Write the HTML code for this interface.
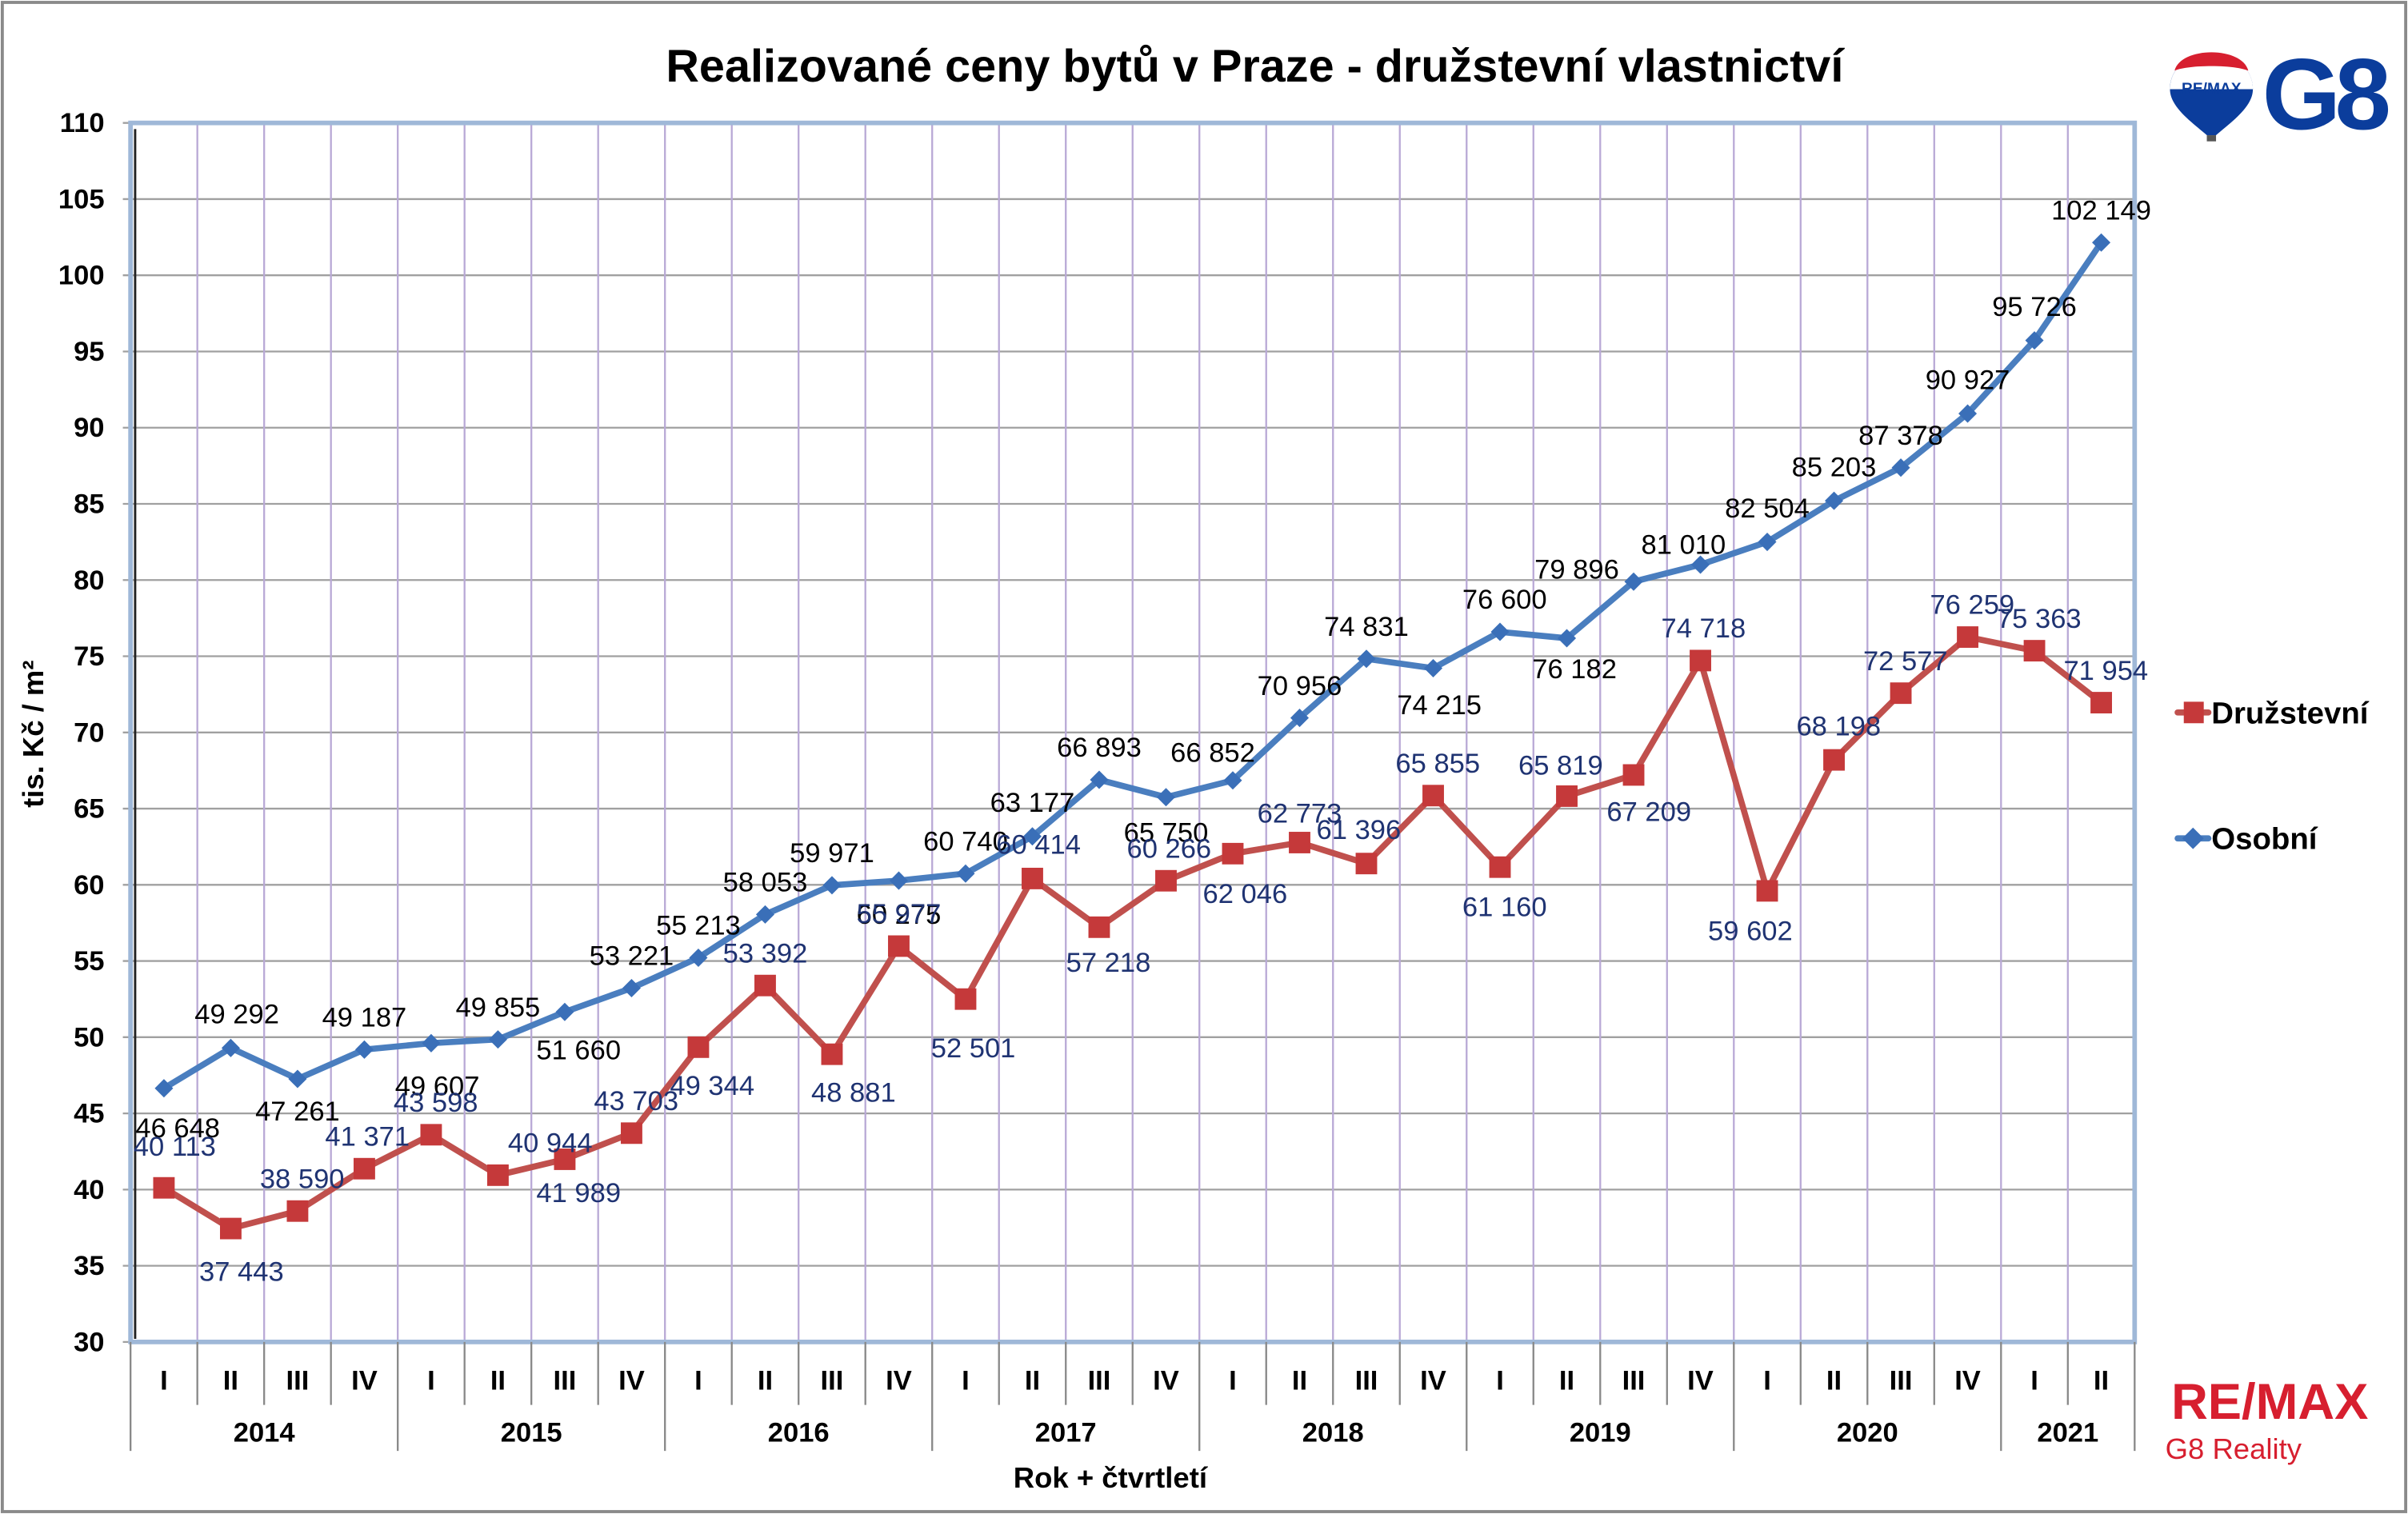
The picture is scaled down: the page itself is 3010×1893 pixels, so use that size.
<!DOCTYPE html>
<html><head><meta charset="utf-8"><style>
html,body{margin:0;padding:0;background:#fff}
svg{display:block}
text{font-family:"Liberation Sans",Arial,sans-serif}
</style></head><body>
<svg id="chart" width="3010" height="1893" viewBox="0 0 1568 986" xmlns="http://www.w3.org/2000/svg">
<rect x="1.5" y="1.5" width="1565" height="983" fill="#fff" stroke="#8a8a8a" stroke-width="2"/>
<text x="817" y="53" text-anchor="middle" font-size="30" font-weight="bold">Realizované ceny bytů v Praze - družstevní vlastnictví</text>
<g id="grid"></g>
<rect x="85" y="80" width="1305" height="794" fill="none" stroke="#9fb8d8" stroke-width="3"/>
<line x1="88" y1="84" x2="88" y2="872" stroke="#222" stroke-width="1.5"/>
<g id="axes"></g>
<g id="series"></g>
<text transform="translate(28,478) rotate(-90)" text-anchor="middle" font-size="19" font-weight="bold">tis. Kč / m²</text>
<text x="723" y="969" text-anchor="middle" font-size="19" font-weight="bold">Rok + čtvrtletí</text>
<g>
<g>
<line x1="1418" y1="464" x2="1438" y2="464" stroke="#c0504d" stroke-width="4" stroke-linecap="round"/>
<rect x="1422" y="457" width="13" height="14" fill="#c5393a"/>
<text x="1440" y="471" font-size="20" font-weight="bold">Družstevní</text></g>
<g>
<line x1="1418" y1="546" x2="1438" y2="546" stroke="#4a7ebf" stroke-width="4" stroke-linecap="round"/>
<polygon points="1428,539 1435,546 1428,553 1421,546" fill="#3a6fb8"/>
<text x="1440" y="553" font-size="20" font-weight="bold">Osobní</text></g>
</g>
<g>
<path d="M1413,58 C1413,28 1467,28 1467,58 C1467,70 1452,80 1443,88 L1437,88 C1428,80 1413,70 1413,58 Z" fill="#0b3d9c"/>
<path d="M1413,58 C1413,28 1467,28 1467,58 L1413,58 Z" fill="#fff"/>
<path d="M1416,46 C1420,30 1460,30 1464,46 C1455,42 1425,42 1416,46 Z" fill="#d71f2f"/>
<text x="1440" y="61" text-anchor="middle" font-size="10" font-weight="bold" fill="#0b3d9c">RE/MAX</text>
<rect x="1437" y="88" width="6" height="4" fill="#555"/>
<text x="1513" y="84" text-anchor="middle" font-size="66" font-weight="bold" fill="#0b3d9c" letter-spacing="-4">G8</text>
</g>
<g>
<text x="1478" y="924" text-anchor="middle" font-size="33" font-weight="bold" fill="#d71f2f">RE/MAX</text>
<text x="1410" y="950" font-size="19" fill="#d71f2f">G8 Reality</text>
</g>
</svg>
<script>
const categories=["I","II","III","IV","I","II","III","IV","I","II","III","IV","I","II","III","IV","I","II","III","IV","I","II","III","IV","I","II","III","IV","I","II"];
const years=["2014","2015","2016","2017","2018","2019","2020","2021"];
const yTicks=[30,35,40,45,50,55,60,65,70,75,80,85,90,95,100,105,110];
const osobni=[46648,49292,47261,49187,49607,49855,51660,53221,55213,58053,59971,60275,60740,63177,66893,65750,66852,70956,74831,74215,76600,76182,79896,81010,82504,85203,87378,90927,95726,102149];
const druzstevni=[40113,37443,38590,41371,43598,40944,41989,43703,49344,53392,48881,55977,52501,60414,57218,60266,62046,62773,61396,65855,61160,65819,67209,74718,59602,68198,72577,76259,75363,71954];
const osDx=[9,4,0,0,4,0,9,0,0,0,0,0,0,0,0,0,-13,0,0,4,3,5,-37,-11,0,0,0,0,0,0];
const osDy=[26,-22,21,-21,28,-21,25,-21,-21,-21,-21,22,-21,-22,-21,23,-18,-21,-21,24,-21,20,-8,-13,-22,-22,-21,-22,-22,-21];
const drDx=[7,7,3,2,3,34,9,3,9,0,14,0,5,4,6,2,8,0,-5,3,3,-4,10,2,-11,3,3,3,3,3];
const drDy=[-27,28,-21,-21,-21,-21,22,-21,25,-21,25,-21,32,-22,23,-21,26,-19,-22,-21,26,-20,24,-21,26,-22,-21,-21,-21,-21];
const NS="http://www.w3.org/2000/svg";
const X0=85,BW=43.5,YB=874,YT=80,VMIN=30,VMAX=110;
const xs=i=>X0+BW*(i+0.5);
const ys=v=>YB-(v-VMIN)/(VMAX-VMIN)*(YB-YT);
function mk(tag,attrs,parent){const e=document.createElementNS(NS,tag);for(const k in attrs)e.setAttribute(k,attrs[k]);parent.appendChild(e);return e;}
const fmt=v=>{const s=String(Math.round(v));return s.length>3?s.slice(0,-3)+" "+s.slice(-3):s;};
const grid=document.getElementById('grid'),axes=document.getElementById('axes'),ser=document.getElementById('series');
yTicks.forEach(t=>{
 const l=mk('line',{x1:X0-5,x2:X0+1305,y1:ys(t),y2:ys(t),stroke:'#a0a0a0','stroke-width':1.2},grid);
 
 
 const tx=mk('text',{x:68,y:ys(t)+6,'text-anchor':'end','font-size':18,'font-weight':'bold'},axes);
 tx.textContent=t;
 
 
});
for(let i=1;i<categories.length;i++){
 const x=X0+BW*i;
 const l=mk('line',{x1:x,x2:x,y1:YT,y2:YB,stroke:'#b9a9d6','stroke-width':1.2},grid);
 
 
}
for(let i=0;i<=categories.length;i++){
 const x=X0+BW*i;const yr=(i%4===0)||i===categories.length;
 const l=mk('line',{x1:x,x2:x,y1:YB,y2:yr?945:915,stroke:'#888','stroke-width':1.2},axes);
 
 
}
categories.forEach((c,i)=>{
 const t=mk('text',{x:xs(i),y:905,'text-anchor':'middle','font-size':18,'font-weight':'bold'},axes);
 t.textContent=c;
 
 
});
years.forEach((y,j)=>{
 const s=j*4,e=Math.min(s+4,categories.length);
 const t=mk('text',{x:X0+BW*(s+e)/2,y:939,'text-anchor':'middle','font-size':18,'font-weight':'bold'},axes);
 t.textContent=y;
 
 
});
function drawSeries(vals,color,mcolor,shape,name,dx,dy,lc){
 const pts=vals.map((v,i)=>xs(i)+','+ys(v/1000)).join(' ');
 const pl=mk('polyline',{points:pts,fill:'none',stroke:color,'stroke-width':4,'stroke-linejoin':'round'},ser);
 
 
 vals.forEach((v,i)=>{
  const x=xs(i),y=ys(v/1000);let m;
  if(shape==='sq')m=mk('rect',{x:x-7,y:y-7,width:14,height:14,fill:mcolor},ser);
  else m=mk('polygon',{points:`${x},${y-6} ${x+6},${y} ${x},${y+6} ${x-6},${y}`,fill:mcolor},ser);
  
  
 });
 vals.forEach((v,i)=>{
  const t=mk('text',{x:xs(i)+dx[i],y:ys(v/1000)+dy[i]+6,'text-anchor':'middle','font-size':18,fill:lc},ser);
  t.textContent=fmt(v);
  
  
 });
}
drawSeries(osobni,'#4a7ebf','#3a6fb8','dia','osobni',osDx,osDy,'#000');
drawSeries(druzstevni,'#c0504d','#c5393a','sq','druzstevni',drDx,drDy,'#1f3372');
</script>
</body></html>
